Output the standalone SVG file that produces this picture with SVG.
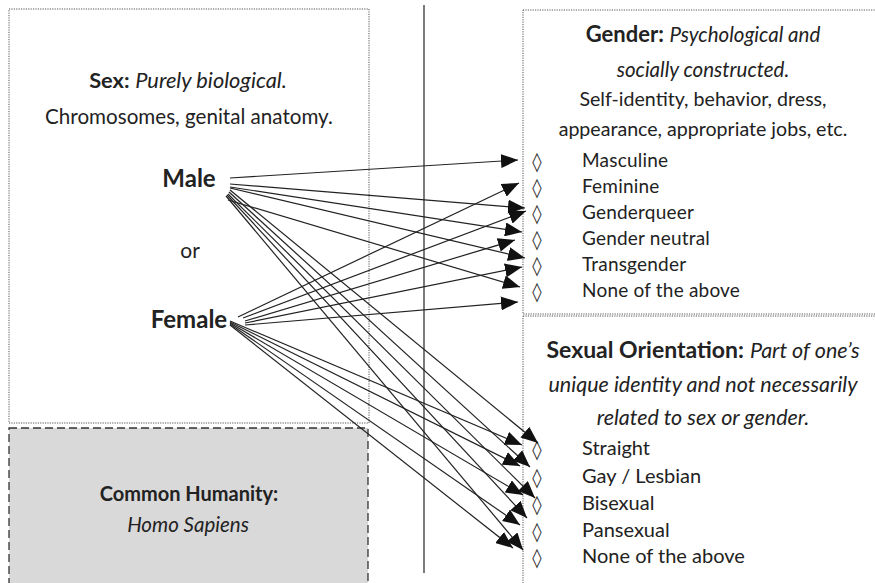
<svg xmlns="http://www.w3.org/2000/svg" width="875" height="583" viewBox="0 0 875 583">
<style>
.box{fill:none;stroke:#555;stroke-width:1;stroke-dasharray:1.2 1.2}
.t{font-family:Lato,"Open Sans","Liberation Sans",sans-serif;fill:#222}
.b{font-weight:bold}
.i{font-style:italic}
.dia{font-family:"DejaVu Sans",sans-serif;fill:#333;font-size:19px}
.c line{stroke:#222;stroke-width:1.2;marker-end:url(#ah)}
</style>
<defs>
<marker id="ah" markerUnits="userSpaceOnUse" markerWidth="18" markerHeight="14" refX="17" refY="7" orient="auto" viewBox="0 0 18 14">
<path d="M0,0 L17,7 L0,14 z" fill="#111"/>
</marker>
</defs>
<rect width="875" height="583" fill="#fff"/>

<g id="sex">
<rect class="box" x="9" y="9" width="360" height="414"/>
<text class="t" x="188" y="88" text-anchor="middle" font-size="21.8"><tspan class="b">Sex:</tspan> <tspan class="i">Purely biological.</tspan></text>
<text class="t" x="189" y="124" text-anchor="middle" font-size="20.6">Chromosomes, genital anatomy.</text>
</g>
<g id="male"><text class="t b" x="189" y="187" text-anchor="middle" font-size="24">Male</text></g>
<g id="or"><text class="t" x="190" y="258" text-anchor="middle" font-size="21">or</text></g>
<g id="female"><text class="t b" x="189" y="328" text-anchor="middle" font-size="24">Female</text></g>

<g id="humanity">
<rect x="9" y="428" width="359" height="170" fill="#d9d9d9" stroke="#333" stroke-width="1.3" stroke-dasharray="8 4"/>
<text class="t b" x="189" y="501" text-anchor="middle" font-size="20">Common Humanity:</text>
<text class="t i" x="188" y="532" text-anchor="middle" font-size="20.5">Homo Sapiens</text>
</g>

<line x1="424" y1="5" x2="424" y2="573" stroke="#333" stroke-width="1.3"/>

<g id="gender">
<rect class="box" x="523" y="10" width="360" height="304"/>
<text class="t" x="703" y="42" text-anchor="middle" font-size="22"><tspan class="b">Gender:</tspan> <tspan class="i" font-size="20.5">Psychological and</tspan></text>
<text class="t i" x="703" y="77" text-anchor="middle" font-size="20.5">socially constructed.</text>
<text class="t" x="703" y="106" text-anchor="middle" font-size="19.6">Self-identity, behavior, dress,</text>
<text class="t" x="703" y="136" text-anchor="middle" font-size="19.6">appearance, appropriate jobs, etc.</text>
<text class="dia" x="537" y="168" text-anchor="middle">◊</text><text class="t" x="582" y="167" font-size="19" letter-spacing="0.2">Masculine</text>
<text class="dia" x="537" y="194" text-anchor="middle">◊</text><text class="t" x="582" y="193" font-size="19" letter-spacing="0.2">Feminine</text>
<text class="dia" x="537" y="220" text-anchor="middle">◊</text><text class="t" x="582" y="219" font-size="19" letter-spacing="0.2">Genderqueer</text>
<text class="dia" x="537" y="246" text-anchor="middle">◊</text><text class="t" x="582" y="245" font-size="19" letter-spacing="0.2">Gender neutral</text>
<text class="dia" x="537" y="272" text-anchor="middle">◊</text><text class="t" x="582" y="271" font-size="19" letter-spacing="0.2">Transgender</text>
<text class="dia" x="537" y="298" text-anchor="middle">◊</text><text class="t" x="582" y="297" font-size="19" letter-spacing="0.2">None of the above</text>
</g>

<g id="orientation">
<rect class="box" x="523" y="316" width="360" height="280"/>
<text class="t" x="703" y="358" text-anchor="middle" font-size="23"><tspan class="b">Sexual Orientation:</tspan> <tspan class="i" font-size="21.5">Part of one’s</tspan></text>
<text class="t i" x="703" y="392" text-anchor="middle" font-size="21.5">unique identity and not necessarily</text>
<text class="t i" x="703" y="425" text-anchor="middle" font-size="21.5">related to sex or gender.</text>
<text class="dia" x="537" y="456" text-anchor="middle">◊</text><text class="t" x="582" y="455" font-size="20">Straight</text>
<text class="dia" x="537" y="484" text-anchor="middle">◊</text><text class="t" x="582" y="483" font-size="20">Gay / Lesbian</text>
<text class="dia" x="537" y="511" text-anchor="middle">◊</text><text class="t" x="582" y="510" font-size="20">Bisexual</text>
<text class="dia" x="537" y="538" text-anchor="middle">◊</text><text class="t" x="582" y="537" font-size="20">Pansexual</text>
<text class="dia" x="537" y="564" text-anchor="middle">◊</text><text class="t" x="582" y="563" font-size="20">None of the above</text>
</g>

<g id="connectors" class="c">
<line x1="230" y1="178" x2="518" y2="160"/>
<line x1="230" y1="184" x2="525" y2="208"/>
<line x1="230" y1="187" x2="522" y2="232"/>
<line x1="230" y1="188" x2="525" y2="258"/>
<line x1="228" y1="200" x2="520" y2="287"/>
<line x1="230" y1="190" x2="538" y2="443"/>
<line x1="229" y1="192" x2="530" y2="467"/>
<line x1="228" y1="194" x2="535" y2="498"/>
<line x1="227" y1="195" x2="527" y2="518"/>
<line x1="226" y1="196" x2="523" y2="550"/>
<line x1="238" y1="317" x2="519" y2="183"/>
<line x1="243" y1="318" x2="526" y2="211"/>
<line x1="245" y1="321" x2="515" y2="240"/>
<line x1="245" y1="323" x2="522" y2="267"/>
<line x1="245" y1="325" x2="518" y2="302"/>
<line x1="230" y1="321" x2="522" y2="445"/>
<line x1="230" y1="322" x2="520" y2="466"/>
<line x1="230" y1="323" x2="523" y2="495"/>
<line x1="230" y1="324" x2="520" y2="525"/>
<line x1="230" y1="325" x2="513" y2="548"/>
</g>
</svg>
